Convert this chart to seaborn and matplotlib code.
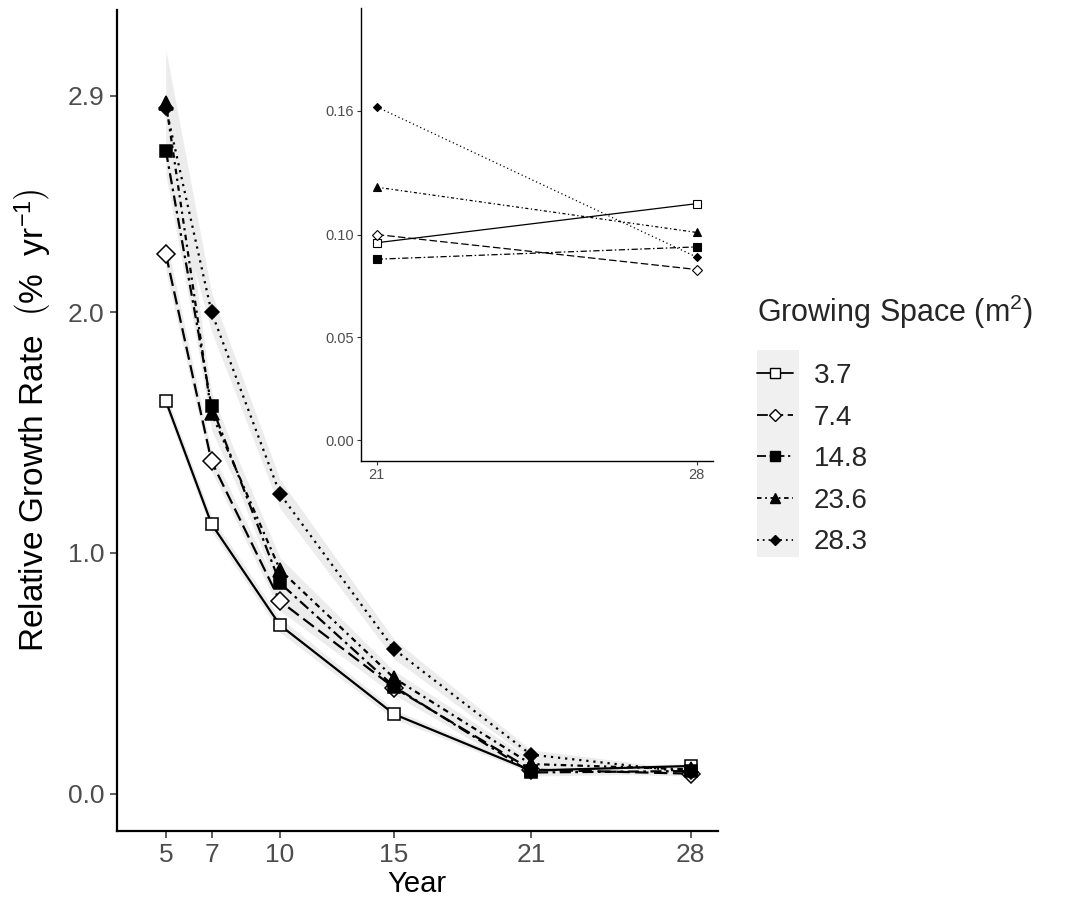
import numpy as np
import pandas as pd
import matplotlib
matplotlib.use("Agg")
import matplotlib.pyplot as plt
import seaborn as sns
from matplotlib.lines import Line2D
from matplotlib.patches import Rectangle

# ---------------- data ----------------
years = [5, 7, 10, 15, 21, 28]
spaces = ["3.7", "7.4", "14.8", "23.6", "28.3"]

rgr_3_7 = [1.63, 1.12, 0.70, 0.33, 0.096, 0.115]
rgr_7_4 = [2.24, 1.38, 0.80, 0.44, 0.100, 0.083]
rgr_14_8 = [2.67, 1.61, 0.875, 0.445, 0.088, 0.094]
rgr_23_6 = [2.87, 1.58, 0.93, 0.48, 0.123, 0.101]
rgr_28_3 = [2.85, 2.00, 1.245, 0.60, 0.162, 0.089]

se_3_7 = [0.03, 0.03, 0.03, 0.02, 0.01, 0.01]
se_7_4 = [0.07, 0.04, 0.04, 0.03, 0.01, 0.01]
se_14_8 = [0.10, 0.06, 0.05, 0.03, 0.015, 0.01]
se_23_6 = [0.20, 0.07, 0.05, 0.03, 0.02, 0.01]
se_28_3 = [0.24, 0.08, 0.06, 0.04, 0.02, 0.01]

main_yticks = [0.0, 1.0, 2.0, 2.9]
main_ytick_labels = ["0.0", "1.0", "2.0", "2.9"]
inset_yticks = [0.00, 0.05, 0.10, 0.16]
inset_ytick_labels = ["0.00", "0.05", "0.10", "0.16"]
inset_years = [21, 28]

values = [rgr_3_7, rgr_7_4, rgr_14_8, rgr_23_6, rgr_28_3]
ses = [se_3_7, se_7_4, se_14_8, se_23_6, se_28_3]

rows = []
for sp, vals, s in zip(spaces, values, ses):
    for yr, v, e in zip(years, vals, s):
        rows.append({"Year": yr, "RGR": v, "se": e, "Space": sp})
df = pd.DataFrame(rows)

# ---------------- styles ----------------
styles = {
    "3.7": dict(marker="s", mfc="white", ls="-", ms=9, ims=5.5, lms=6.5),
    "7.4": dict(marker="D", mfc="white", ls=(0, (6, 2.5)), ms=9, ims=5.5, lms=6.5),
    "14.8": dict(marker="s", mfc="black", ls=(0, (5, 2, 1.2, 2)), ms=9, ims=5.5, lms=6.5),
    "23.6": dict(marker="^", mfc="black", ls=(0, (2.5, 2, 1, 2)), ms=10, ims=6, lms=7.5),
    "28.3": dict(marker="D", mfc="black", ls=(0, (1, 2.2)), ms=7, ims=4, lms=5),
}

sns.set_style("ticks")
plt.rcParams["font.family"] = ["Liberation Sans", "DejaVu Sans"]
plt.rcParams["mathtext.fontset"] = "custom"
plt.rcParams["mathtext.rm"] = "Liberation Sans"
plt.rcParams["mathtext.it"] = "Liberation Sans:italic"
plt.rcParams["mathtext.default"] = "regular"

fig = plt.figure(figsize=(10.8, 9.05), dpi=100)
fig.patch.set_facecolor("white")

# ---------------- main axes ----------------
ax = fig.add_axes([0.108, 0.0818, 0.5565, 0.907])
for sp in spaces:
    d = df[df["Space"] == sp]
    ax.fill_between(d["Year"], d["RGR"] - d["se"], d["RGR"] + d["se"],
                    color="#ececec", lw=0, zorder=1)
for sp in spaces:
    d = df[df["Space"] == sp]
    st = styles[sp]
    sns.lineplot(data=d, x="Year", y="RGR", ax=ax, color="black",
                 errorbar=None, marker=st["marker"], markersize=st["ms"],
                 markerfacecolor=st["mfc"], markeredgecolor="black",
                 markeredgewidth=1.1, linestyle=st["ls"], linewidth=1.6,
                 zorder=3, legend=False)

ax.set_xlim(2.84, 29.18)
ax.set_ylim(-0.155, 3.255)
ax.set_xticks(years)
ax.set_xticklabels([str(y) for y in years])
ax.set_yticks(main_yticks)
ax.set_yticklabels(main_ytick_labels)
ax.tick_params(axis="both", labelsize=19, labelcolor="#4d4d4d", color="#333333",
               length=5, width=1.1, direction="out", pad=4)
ax.set_xlabel("Year", fontsize=21, color="black", labelpad=2)
ax.set_ylabel(r"Relative Growth Rate  $\left(\% \ \ yr^{-1}\right)$", fontsize=24,
              color="black", labelpad=10)
for s in ["top", "right"]:
    ax.spines[s].set_visible(False)
for s in ["left", "bottom"]:
    ax.spines[s].set_linewidth(1.6)
    ax.spines[s].set_color("black")

# ---------------- inset ----------------
axin = fig.add_axes([0.334, 0.4906, 0.326, 0.5005])
axin.set_facecolor("white")
dfi = df[df["Year"].isin(inset_years)]
for sp in spaces:
    d = dfi[dfi["Space"] == sp]
    st = styles[sp]
    sns.lineplot(data=d, x="Year", y="RGR", ax=axin, color="black",
                 errorbar=None, marker=st["marker"], markersize=st["ims"],
                 markerfacecolor=st["mfc"], markeredgecolor="black",
                 markeredgewidth=0.8, linestyle=st["ls"], linewidth=0.9,
                 zorder=3, legend=False)
axin.set_xlim(20.65, 28.35)
axin.set_ylim(-0.01, 0.21)
axin.set_xticks(inset_years)
axin.set_xticklabels([str(y) for y in inset_years])
axin.set_yticks(inset_yticks)
axin.set_yticklabels(inset_ytick_labels)
axin.tick_params(axis="both", labelsize=10.5, labelcolor="#4d4d4d", color="#333333",
                 length=3, width=0.8, pad=2)
axin.set_xlabel("")
axin.set_ylabel("")
for s in ["top", "right"]:
    axin.spines[s].set_visible(False)
for s in ["left", "bottom"]:
    axin.spines[s].set_linewidth(1.0)
    axin.spines[s].set_color("black")

# ---------------- legend ----------------
fig.patches.append(Rectangle((0.701, 0.3845), 0.039, 0.2287, transform=fig.transFigure,
                             facecolor="#f0f0f0", edgecolor="none", zorder=0))
handles = []
for sp in spaces:
    st = styles[sp]
    handles.append(Line2D([0], [0], color="black", lw=1.3, linestyle=st["ls"],
                          marker=st["marker"], markersize=st["lms"],
                          markerfacecolor=st["mfc"], markeredgecolor="black",
                          markeredgewidth=1.0))
leg = fig.legend(handles, spaces, title="Growing Space (m$^2$)", loc="upper left",
                 bbox_to_anchor=(0.701, 0.6765), frameon=False, fontsize=20,
                 title_fontsize=22, handlelength=1.3, handletextpad=0.75,
                 labelspacing=0.56, borderpad=0, borderaxespad=0, alignment="left")
leg._legend_box.sep = 23

fig.savefig("out.png", dpi=100, facecolor="white")
